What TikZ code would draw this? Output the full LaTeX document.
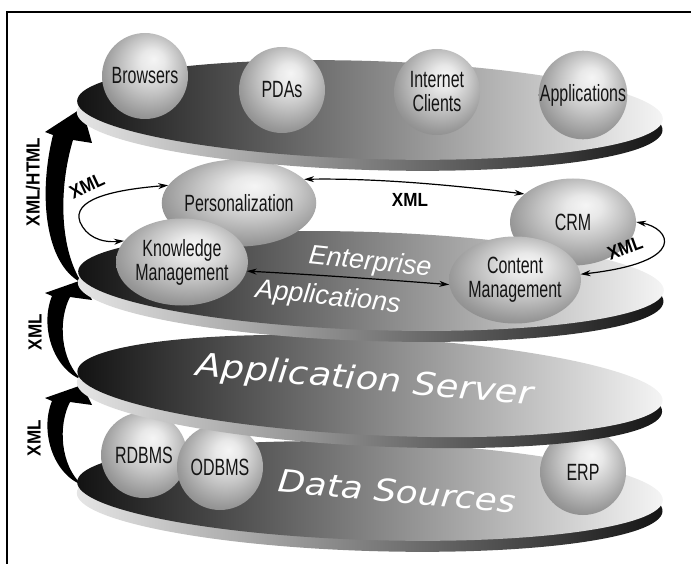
\documentclass[tikz,border=0pt]{standalone}
\usepackage{fontspec}
\usetikzlibrary{shapes.geometric,arrows.meta}
\setmainfont{Liberation Sans}
\newfontfamily\ballfont[FakeStretch=0.68]{Liberation Sans}
\newfontfamily\tagfont[FakeStretch=0.9]{Liberation Sans}
\newfontfamily\slabfont[FakeStretch=1.15]{DejaVu Sans}

% soft grey sphere with the highlight above the centre
\pgfdeclareradialshading{orbshade}{\pgfpoint{5bp}{10bp}}{%
  color(0bp)=(black!4); color(7bp)=(black!9); color(17bp)=(black!24);
  color(27bp)=(black!40); color(36bp)=(black!52); color(50bp)=(black!52)}

\tikzset{
  orb/.style={circle, shade, shading=orbshade, minimum size=86pt, inner sep=0pt,
    align=center, text=black!92, font=\ballfont\fontsize{23.5}{24}\selectfont},
  ovoid/.style={orb, ellipse, minimum width=126pt, minimum height=87pt},
  tag/.style={inner sep=0pt, text=black, font=\tagfont\bfseries\fontsize{19}{19}\selectfont},
  slab/.style={inner sep=0pt, text=white, font=\slabfont\itshape\fontsize{32}{32}\selectfont},
  entlabel/.style={inner sep=0pt, text=white, font=\itshape\fontsize{27}{27}\selectfont},
  conn/.style={line width=1.2pt, {Stealth[length=10pt,width=6pt]}-{Stealth[length=10pt,width=6pt]}},
  % a tilted platter: dark-to-light top face over a thin rim
  platter/.pic={
    \shade[left color=black!10, middle color=black!50, right color=black!92]
      (0,11) ellipse [x radius=293, y radius=49];
    \shade[left color=black!93, middle color=black!48, right color=black!4]
      (0,0) ellipse [x radius=293, y radius=49];
  },
}

\begin{document}
\begin{tikzpicture}[x=1pt, y=-1pt]
\useasboundingbox (0,0) rectangle (691,564);

% frame
\draw[line width=2pt] (7,564) -- (7,12) -- (691,12);

% curved upward arrows between the layers
\fill[black] (82,283) .. controls (45,265) and (38,195) .. (53,135) -- (45,132) -- (82,108)
  -- (92,143) -- (73,140) .. controls (58,190) and (60,250) .. (82,283) -- cycle;
\fill[black] (82,380) .. controls (52,368) and (40,325) .. (52,296) -- (45,293) -- (82,280)
  -- (92,300) -- (70,297) .. controls (58,320) and (60,360) .. (82,380) -- cycle;
\fill[black, shift={(0,105)}] (82,380) .. controls (52,368) and (40,325) .. (52,296) -- (45,293) -- (82,280)
  -- (92,300) -- (70,297) .. controls (58,320) and (60,360) .. (82,380) -- cycle;

% data sources layer
\pic[rotate=-1.8] at (370,491) {platter};
\node[orb] (rdbms) at (144,455) {RDBMS};
\node[orb] (odbms) at (220,467) {ODBMS};
\node[orb] (erp) at (583,472) {ERP};
\node[slab, font=\slabfont\itshape\fontsize{31}{31}\selectfont, rotate=-5] (ds) at (397,491) {Data Sources};

% application server layer
\pic[rotate=-2.9] at (370,386) {platter};
\node[slab, rotate=-5] (as) at (365,381) {Application Server};

% enterprise applications layer
\pic[rotate=-1.9] at (371,281) {platter};
\node[entlabel, rotate=-6] (ent1) at (370,263) {Enterprise};
\node[entlabel, rotate=-6] (ent2) at (328,298) {Applications};
\node[ovoid] (pers) at (239,203) {Personalization};
\node[ovoid] (crm) at (573,222) {CRM};
\node[ovoid] (km) at (182,262) {Knowledge\\Management};
\node[ovoid] (cm) at (515,280) {Content\\Management};

\draw[conn] (pers.166) .. controls (110,190) and (72,200) .. (80,222)
  .. controls (86,236) and (100,243) .. (km.160);
\draw[conn] (pers.20) .. controls (380,178) and (460,186) .. (crm.150);
\draw[conn] (km.-8) .. controls (320,275) and (390,280) .. (cm.184);
\draw[conn] (crm.0) .. controls (670,228) and (690,262) .. (cm.5);

% clients layer
\pic[rotate=-1.8] at (370,110) {platter};
\node[orb] (browsers) at (145,76) {Browsers};
\node[orb] (pdas) at (282,90) {PDAs};
\node[orb] (inet) at (437,92) {Internet\\Clients};
\node[orb] (apps) at (583,95) {Applications};

% protocol labels
\node[tag, rotate=90] (lhtml) at (33,182) {XML/HTML};
\node[tag, rotate=90] (lxml1) at (35,332) {XML};
\node[tag, rotate=90] (lxml2) at (34,438) {XML};
\node[tag, rotate=25] (lxml3) at (87,186) {XML};
\node[tag] (lxml4) at (410,200) {XML};
\node[tag, rotate=20] (lxml5) at (625,248) {XML};
\end{tikzpicture}
\end{document}
